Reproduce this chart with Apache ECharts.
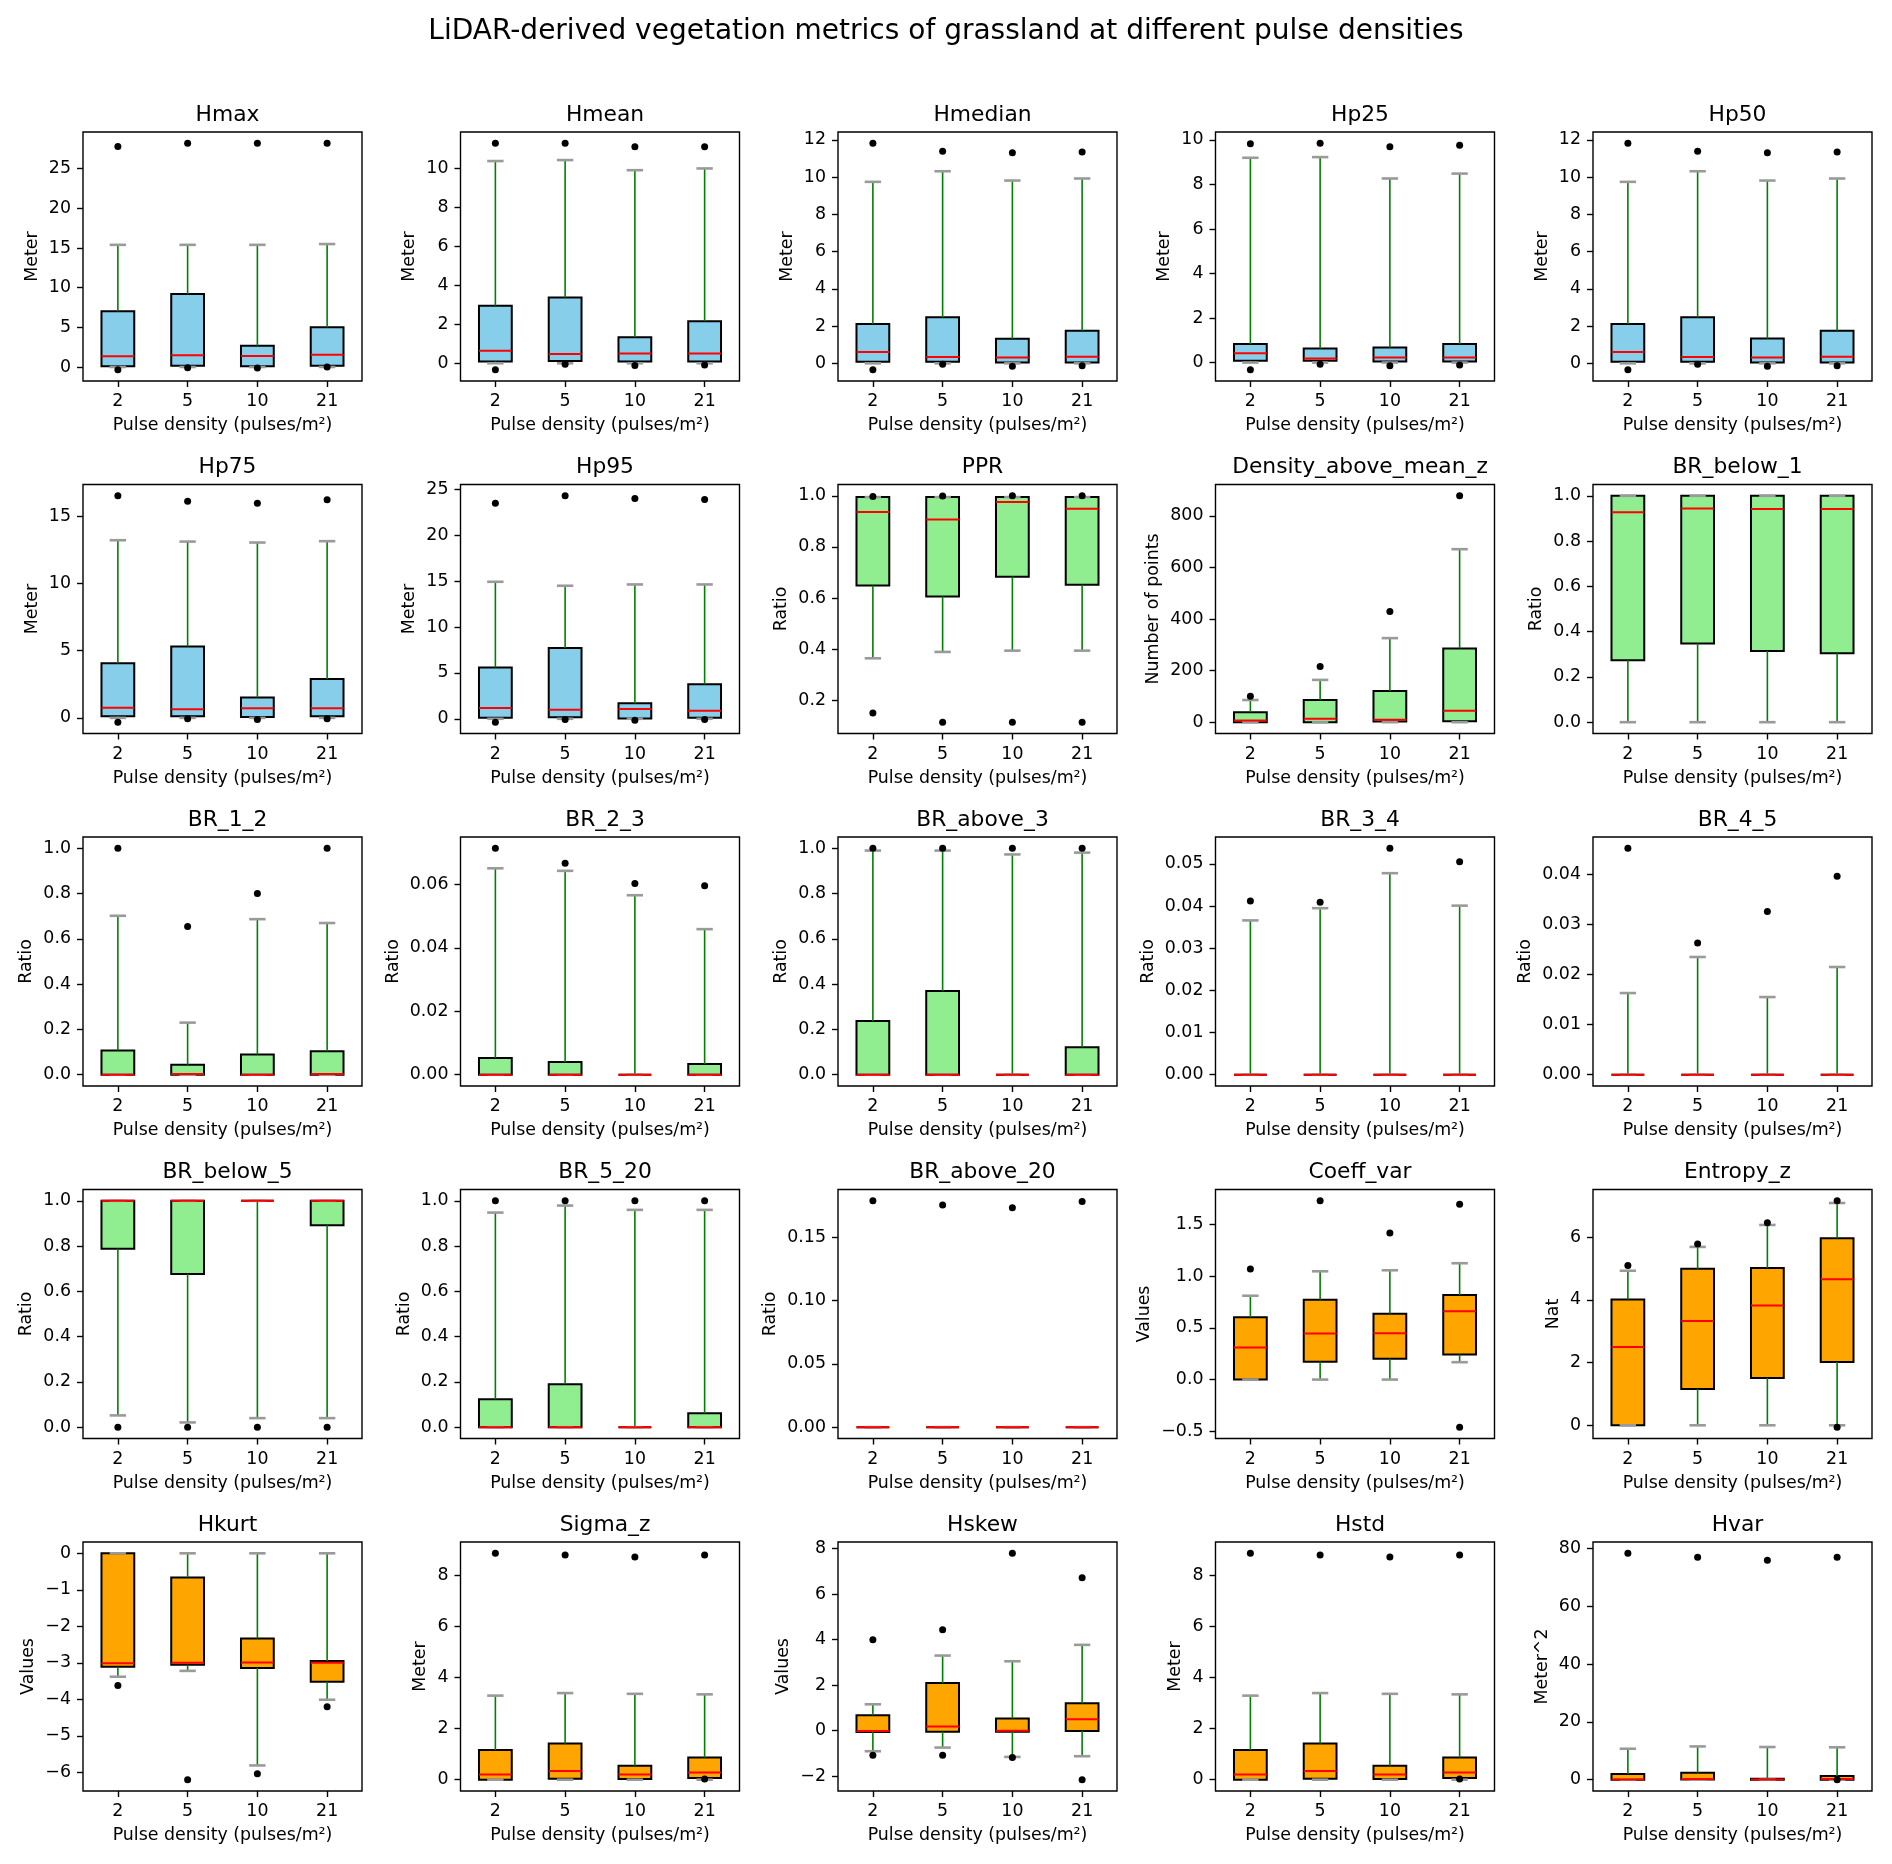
<!DOCTYPE html>
<html><head><meta charset="utf-8">
<script src="https://cdn.jsdelivr.net/npm/echarts@6/dist/echarts.min.js"></script>
<style>html,body{margin:0;padding:0;background:#fff}#c{width:1892px;height:1864px}</style>
</head><body><div id="c"></div>
<script>
// ---------- DATA ----------
const categories = ['2', '5', '10', '21'];
// each box: [lowerWhisker, q1, median, q3, upperWhisker] per category
const Hmax_box = [[0,0.08,1.36,7.03,15.4],[0,0.15,1.48,9.2,15.4],[0,0.08,1.4,2.67,15.4],[0,0.17,1.53,5.0,15.5]];
const Hmax_fliers = [[27.8,-0.34],[28.2,-0.1],[28.2,-0.13],[28.2,0.0]];
const Hmax_ticks = [0,5,10,15,20,25];

const Hmean_box = [[0,0.09,0.64,2.95,10.38],[0,0.12,0.47,3.38,10.43],[0,0.09,0.5,1.33,9.91],[0,0.09,0.5,2.16,10.0]];
const Hmean_fliers = [[11.29,-0.33],[11.29,-0.05],[11.12,-0.12],[11.12,-0.09]];
const Hmean_ticks = [0,2,4,6,8,10];

const Hmedian_box = [[0,0.08,0.61,2.11,9.75],[0,0.09,0.34,2.47,10.32],[0,0.04,0.31,1.32,9.82],[0,0.04,0.36,1.75,9.93]];
const Hmedian_fliers = [[11.82,-0.34],[11.39,-0.05],[11.32,-0.16],[11.35,-0.13]];
const Hmedian_ticks = [0,2,4,6,8,10,12];

const Hp25_box = [[0,0.08,0.42,0.83,9.2],[0,0.08,0.18,0.63,9.23],[0,0.05,0.23,0.68,8.27],[0,0.05,0.23,0.83,8.49]];
const Hp25_fliers = [[9.83,-0.32],[9.85,-0.08],[9.7,-0.14],[9.76,-0.11]];
const Hp25_ticks = [0,2,4,6,8,10];

const Hp50_box = [[0,0.08,0.61,2.11,9.75],[0,0.09,0.34,2.47,10.32],[0,0.04,0.31,1.33,9.82],[0,0.04,0.36,1.75,9.93]];
const Hp50_fliers = [[11.82,-0.34],[11.39,-0.05],[11.32,-0.16],[11.35,-0.13]];
const Hp50_ticks = [0,2,4,6,8,10,12];

const Hp75_box = [[0,0.12,0.75,4.06,13.2],[0,0.12,0.65,5.31,13.1],[0,0.07,0.72,1.52,13.03],[0,0.12,0.72,2.89,13.13]];
const Hp75_fliers = [[16.5,-0.32],[16.1,-0.07],[15.95,-0.12],[16.2,-0.07]];
const Hp75_ticks = [0,5,10,15];

const Hp95_box = [[0,0.11,1.17,5.6,14.93],[0,0.18,0.99,7.72,14.5],[0,0.04,1.06,1.68,14.64],[0,0.11,0.88,3.77,14.64]];
const Hp95_fliers = [[23.5,-0.37],[24.3,-0.07],[24.0,-0.15],[23.9,-0.07]];
const Hp95_ticks = [0,5,10,15,20,25];

const PPR_box = [[0.364,0.649,0.937,0.995,0.995],[0.389,0.606,0.907,0.995,0.995],[0.394,0.683,0.976,0.995,0.995],[0.394,0.652,0.949,0.995,0.995]];
const PPR_fliers = [[0.997,0.15],[0.999,0.114],[1.0,0.114],[1.0,0.114]];
const PPR_ticks = [0.2,0.4,0.6,0.8,1.0];

const Density_box = [[0,0,6.5,39,86],[0,0,13,86,164],[0,2.6,9,121,326],[0,4,44,286,671]];
const Density_fliers = [[101],[216],[429],[878]];
const Density_ticks = [0,200,400,600,800];

const BRb1_box = [[0,0.274,0.927,1.0,1.0],[0,0.348,0.944,1.0,1.0],[0,0.314,0.942,1.0,1.0],[0,0.304,0.942,1.0,1.0]];
const BRb1_fliers = [[],[],[],[]];
const BRb1_ticks = [0,0.2,0.4,0.6,0.8,1.0];

const BR12_box = [[0,0,0,0.107,0.702],[0,0,0.003,0.044,0.23],[0,0,0,0.089,0.687],[0,0,0.003,0.104,0.67]];
const BR12_fliers = [[1.0],[0.655],[0.8],[1.0]];
const BR12_ticks = [0,0.2,0.4,0.6,0.8,1.0];

const BR23_box = [[0,0,0,0.0053,0.0651],[0,0,0,0.004,0.0643],[0,0,0,0,0.0566],[0,0,0,0.0034,0.0459]];
const BR23_fliers = [[0.0714],[0.0667],[0.0603],[0.0596]];
const BR23_ticks = [0,0.02,0.04,0.06];

const BRa3_box = [[0,0,0,0.237,0.99],[0,0,0,0.37,0.99],[0,0,0,0,0.973],[0,0,0,0.121,0.981]];
const BRa3_fliers = [[1.0],[1.0],[1.0],[1.0]];
const BRa3_ticks = [0,0.2,0.4,0.6,0.8,1.0];

const BR34_box = [[0,0,0,0,0.0366],[0,0,0,0,0.0395],[0,0,0,0,0.0478],[0,0,0,0,0.0401]];
const BR34_fliers = [[0.0412],[0.0409],[0.0537],[0.0505]];
const BR34_ticks = [0,0.01,0.02,0.03,0.04,0.05];

const BR45_box = [[0,0,0,0,0.0163],[0,0,0,0,0.0235],[0,0,0,0,0.0155],[0,0,0,0,0.0215]];
const BR45_fliers = [[0.0452],[0.0263],[0.0326],[0.0396]];
const BR45_ticks = [0,0.01,0.02,0.03,0.04];

const BRb5_box = [[0.052,0.788,1.0,1.0,1.0],[0.021,0.677,1.0,1.0,1.0],[0.04,1.0,1.0,1.0,1.0],[0.04,0.892,1.0,1.0,1.0]];
const BRb5_fliers = [[0],[0],[0],[0]];
const BRb5_ticks = [0,0.2,0.4,0.6,0.8,1.0];

const BR520_box = [[0,0,0,0.123,0.948],[0,0,0,0.19,0.979],[0,0,0,0,0.96],[0,0,0,0.062,0.96]];
const BR520_fliers = [[1.0],[1.0],[1.0],[1.0]];
const BR520_ticks = [0,0.2,0.4,0.6,0.8,1.0];

const BRa20_box = [[0,0,0,0,0],[0,0,0,0,0],[0,0,0,0,0],[0,0,0,0,0]];
const BRa20_fliers = [[0.179],[0.1757],[0.1736],[0.1784]];
const BRa20_ticks = [0,0.05,0.10,0.15];

const CV_box = [[0,0,0.311,0.603,0.81],[0,0.172,0.444,0.771,1.046],[0,0.2,0.447,0.635,1.056],[0.168,0.243,0.661,0.816,1.124]];
const CV_fliers = [[1.069],[1.727],[1.416],[1.694,-0.46]];
const CV_ticks = [-0.5,0,0.5,1.0,1.5];

const Ent_box = [[0,0,2.5,4.01,4.93],[0,1.155,3.33,4.99,5.69],[0,1.51,3.82,5.02,6.39],[0,2.02,4.66,5.97,7.09]];
const Ent_fliers = [[5.1],[5.78],[6.46],[7.16,-0.06]];
const Ent_ticks = [0,2,4,6];

const Hkurt_box = [[-3.38,-3.11,-3.01,0,0],[-3.22,-3.05,-3.0,-0.66,0],[-5.81,-3.14,-2.99,-2.33,0],[-4.01,-3.52,-3.0,-2.95,0]];
const Hkurt_fliers = [[-3.62],[-6.2],[-6.04],[-4.2]];
const Hkurt_ticks = [-6,-5,-4,-3,-2,-1,0];

const Sigma_box = [[0,0,0.2,1.16,3.29],[0,0.04,0.34,1.42,3.39],[0,0.03,0.2,0.55,3.36],[0,0.07,0.28,0.87,3.34]];
const Sigma_fliers = [[8.86],[8.79],[8.72],[8.79,0.03]];
const Sigma_ticks = [0,2,4,6,8];

const Hskew_box = [[-0.9,-0.06,-0.01,0.68,1.16],[-0.74,-0.04,0.18,2.09,3.3],[-1.15,-0.04,0,0.54,3.05],[-1.12,-0.01,0.5,1.21,3.77]];
const Hskew_fliers = [[3.99,-1.08],[4.43,-1.08],[7.79,-1.18],[6.72,-2.15]];
const Hskew_ticks = [-2,0,2,4,6,8];

const Hstd_box = [[0,0,0.2,1.16,3.29],[0,0.04,0.34,1.42,3.39],[0,0.03,0.2,0.55,3.36],[0,0.07,0.28,0.87,3.34]];
const Hstd_fliers = [[8.86],[8.79],[8.72],[8.79,0.03]];
const Hstd_ticks = [0,2,4,6,8];

const Hvar_box = [[0,0,0.1,1.98,10.7],[0,0.1,0.2,2.44,11.5],[0,0,0.1,0.35,11.3],[0,0,0.2,1.28,11.2]];
const Hvar_fliers = [[78.3],[76.9],[75.9],[76.9,0]];
const Hvar_ticks = [0,20,40,60,80];

// ---------- STYLE / LAYOUT ----------
const SKY = '#87CEEB', LGREEN = '#90EE90', ORANGE = '#FFA500';
const FONT = 'DejaVu Sans';
const panels = [
  {t:'Hmax', b:Hmax_box, f:Hmax_fliers, k:Hmax_ticks, d:0, u:'Meter', c:SKY},
  {t:'Hmean', b:Hmean_box, f:Hmean_fliers, k:Hmean_ticks, d:0, u:'Meter', c:SKY},
  {t:'Hmedian', b:Hmedian_box, f:Hmedian_fliers, k:Hmedian_ticks, d:0, u:'Meter', c:SKY},
  {t:'Hp25', b:Hp25_box, f:Hp25_fliers, k:Hp25_ticks, d:0, u:'Meter', c:SKY},
  {t:'Hp50', b:Hp50_box, f:Hp50_fliers, k:Hp50_ticks, d:0, u:'Meter', c:SKY},
  {t:'Hp75', b:Hp75_box, f:Hp75_fliers, k:Hp75_ticks, d:0, u:'Meter', c:SKY},
  {t:'Hp95', b:Hp95_box, f:Hp95_fliers, k:Hp95_ticks, d:0, u:'Meter', c:SKY},
  {t:'PPR', b:PPR_box, f:PPR_fliers, k:PPR_ticks, d:1, u:'Ratio', c:LGREEN},
  {t:'Density_above_mean_z', b:Density_box, f:Density_fliers, k:Density_ticks, d:0, u:'Number of points', c:LGREEN},
  {t:'BR_below_1', b:BRb1_box, f:BRb1_fliers, k:BRb1_ticks, d:1, u:'Ratio', c:LGREEN},
  {t:'BR_1_2', b:BR12_box, f:BR12_fliers, k:BR12_ticks, d:1, u:'Ratio', c:LGREEN},
  {t:'BR_2_3', b:BR23_box, f:BR23_fliers, k:BR23_ticks, d:2, u:'Ratio', c:LGREEN},
  {t:'BR_above_3', b:BRa3_box, f:BRa3_fliers, k:BRa3_ticks, d:1, u:'Ratio', c:LGREEN},
  {t:'BR_3_4', b:BR34_box, f:BR34_fliers, k:BR34_ticks, d:2, u:'Ratio', c:LGREEN},
  {t:'BR_4_5', b:BR45_box, f:BR45_fliers, k:BR45_ticks, d:2, u:'Ratio', c:LGREEN},
  {t:'BR_below_5', b:BRb5_box, f:BRb5_fliers, k:BRb5_ticks, d:1, u:'Ratio', c:LGREEN},
  {t:'BR_5_20', b:BR520_box, f:BR520_fliers, k:BR520_ticks, d:1, u:'Ratio', c:LGREEN},
  {t:'BR_above_20', b:BRa20_box, f:BRa20_fliers, k:BRa20_ticks, d:2, u:'Ratio', c:LGREEN},
  {t:'Coeff_var', b:CV_box, f:CV_fliers, k:CV_ticks, d:1, u:'Values', c:ORANGE},
  {t:'Entropy_z', b:Ent_box, f:Ent_fliers, k:Ent_ticks, d:0, u:'Nat', c:ORANGE},
  {t:'Hkurt', b:Hkurt_box, f:Hkurt_fliers, k:Hkurt_ticks, d:0, u:'Values', c:ORANGE},
  {t:'Sigma_z', b:Sigma_box, f:Sigma_fliers, k:Sigma_ticks, d:0, u:'Meter', c:ORANGE},
  {t:'Hskew', b:Hskew_box, f:Hskew_fliers, k:Hskew_ticks, d:0, u:'Values', c:ORANGE},
  {t:'Hstd', b:Hstd_box, f:Hstd_fliers, k:Hstd_ticks, d:0, u:'Meter', c:ORANGE},
  {t:'Hvar', b:Hvar_box, f:Hvar_fliers, k:Hvar_ticks, d:0, u:'Meter^2', c:ORANGE}
];

const COLS = 5, GL = 83, GT = 132, GW = 279, GH = 249, DX = 377.5, DY = 352.5;
const FS = 17.4;
const ctx = document.createElement('canvas').getContext('2d');
ctx.font = FS + 'px "' + FONT + '"';
const fmt = (v, d) => { let s = (Math.abs(v) < 1e-12 ? 0 : v).toFixed(d); return s.replace('-', '\u2212'); };

function makeRender(fill) {
  return function (params, api) {
    const k = api.value(0);
    const P = j => api.coord([k, api.value(j)]);
    const lo = P(1), q1 = P(2), md = P(3), q3 = P(4), hi = P(5);
    const band = api.size([1, 0])[0];
    const bw = band * 0.47, cw = bw / 2, x = lo[0];
    return {type: 'group', children: [
      {type: 'rect', shape: {x: x - bw / 2, y: q3[1], width: bw, height: q1[1] - q3[1]}, style: {fill: fill, stroke: '#000', lineWidth: 2}},
      {type: 'line', shape: {x1: x, y1: q3[1], x2: x, y2: hi[1]}, style: {stroke: '#008000', lineWidth: 1.6}},
      {type: 'line', shape: {x1: x, y1: q1[1], x2: x, y2: lo[1]}, style: {stroke: '#008000', lineWidth: 1.6}},
      {type: 'line', shape: {x1: x - cw / 2, y1: hi[1], x2: x + cw / 2, y2: hi[1]}, style: {stroke: '#9a9a9a', lineWidth: 2.6}},
      {type: 'line', shape: {x1: x - cw / 2, y1: lo[1], x2: x + cw / 2, y2: lo[1]}, style: {stroke: '#9a9a9a', lineWidth: 2.6}},
      {type: 'line', shape: {x1: x - bw / 2, y1: md[1], x2: x + bw / 2, y2: md[1]}, style: {stroke: '#ff0000', lineWidth: 2}}
    ]};
  };
}

const txt = {fontFamily: FONT, fontSize: FS, color: '#000'};
const option = {animation: false, backgroundColor: '#fff', title: [], grid: [], xAxis: [], yAxis: [], series: []};
option.title.push({text: 'LiDAR-derived vegetation metrics of grassland at different pulse densities', left: 'center', top: 13,
  textStyle: {fontFamily: FONT, fontSize: 28, fontWeight: 'normal', color: '#000'}});

panels.forEach((p, i) => {
  const r = Math.floor(i / COLS), c = i % COLS;
  const left = GL + c * DX, top = GT + r * DY;
  const all = [];
  p.b.forEach(b => all.push(...b));
  p.f.forEach(f => all.push(...f));
  const dmin = Math.min(...all), dmax = Math.max(...all);
  const pad = (dmax - dmin) * 0.05;
  const labels = p.k.map(v => fmt(v, p.d));
  const maxW = Math.max(...labels.map(s => ctx.measureText(s).width));
  option.grid.push({left: left, top: top, width: GW, height: GH, show: true, borderColor: '#000', borderWidth: 1.4, backgroundColor: 'transparent'});
  option.title.push({text: p.t, left: left + GW / 2, top: top - 33, textAlign: 'center',
    textStyle: {fontFamily: FONT, fontSize: 21.8, fontWeight: 'normal', color: '#000'}});
  option.xAxis.push({type: 'category', gridIndex: i, data: categories, boundaryGap: true,
    name: 'Pulse density (pulses/m\u00B2)', nameLocation: 'middle', nameGap: 36, nameTextStyle: txt,
    axisLine: {show: false, onZero: false}, axisTick: {show: true, alignWithLabel: true, length: 6, lineStyle: {color: '#000', width: 1.4}},
    axisLabel: Object.assign({margin: 12, interval: 0}, txt), splitLine: {show: false}});
  option.yAxis.push({type: 'value', gridIndex: i, min: dmin - pad, max: dmax + pad, scale: true,
    name: p.u, nameLocation: 'middle', nameGap: maxW + 20, nameRotate: 90, nameTextStyle: txt,
    axisLine: {show: false, onZero: false},
    axisTick: {show: true, length: 6, customValues: p.k, lineStyle: {color: '#000', width: 1.4}},
    axisLabel: Object.assign({margin: 12, customValues: p.k, formatter: v => fmt(v, p.d), showMinLabel: true, showMaxLabel: true}, txt),
    splitLine: {show: false}});
  option.series.push({type: 'custom', xAxisIndex: i, yAxisIndex: i, z: 2,
    data: p.b.map((b, k) => [k].concat(b)), encode: {x: 0, y: [1, 2, 3, 4, 5]}, renderItem: makeRender(p.c)});
  const fl = [];
  p.f.forEach((vals, k) => vals.forEach(v => fl.push([k, v])));
  option.series.push({type: 'scatter', xAxisIndex: i, yAxisIndex: i, z: 3, data: fl, symbol: 'circle', symbolSize: 7,
    itemStyle: {color: '#000', opacity: 1}, silent: true});
});

const chart = echarts.init(document.getElementById('c'), null, {renderer: 'canvas'});
chart.setOption(option);
</script>
</body></html>
